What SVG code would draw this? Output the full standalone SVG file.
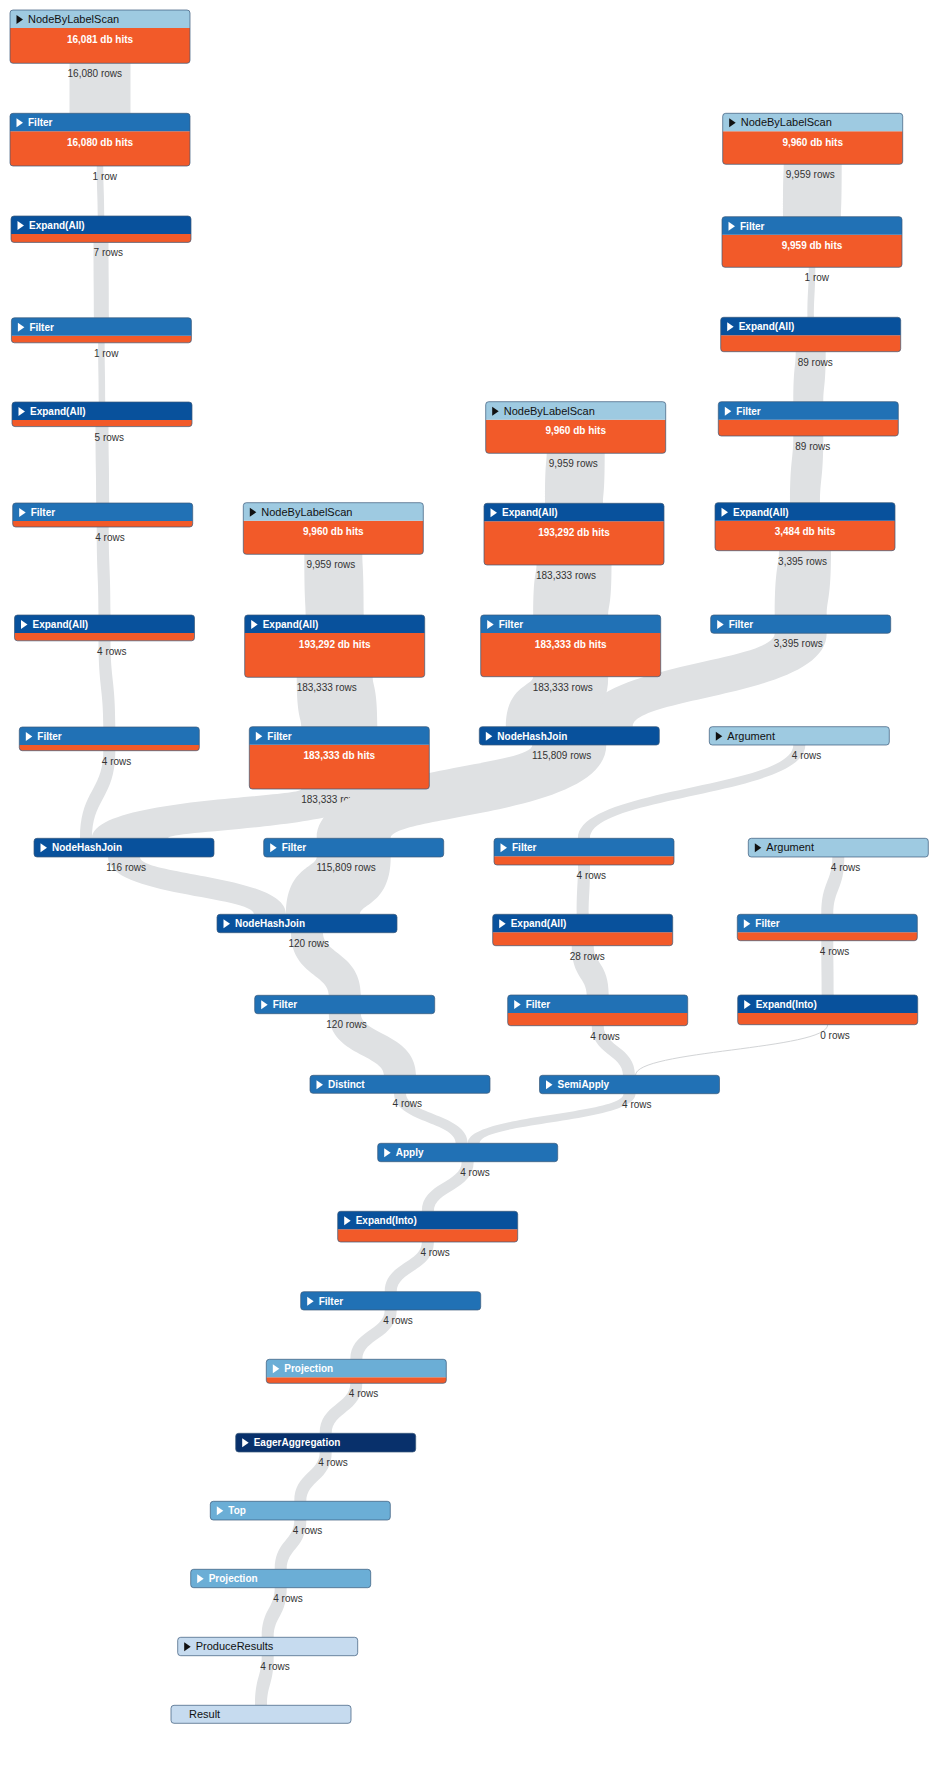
<svg xmlns="http://www.w3.org/2000/svg" xmlns:xlink="http://www.w3.org/1999/xlink" width="938" height="1784" viewBox="0 0 938 1784">
<style>
.lk{fill:#DFE1E3}
.ln{fill:none;stroke:#D2D4D6;stroke-width:1}
.rl{font-family:"Liberation Sans",Arial,sans-serif;font-size:10px;fill:#333;text-anchor:end}
.body{fill:#F25A29}
.ol{fill:none;stroke:#3b5a7a;stroke-opacity:.7;stroke-width:1}
.c1{fill:#C6DBEF}.c2{fill:#9ECAE1}.c3{fill:#6BAED6}.c5{fill:#2171B5}.c6{fill:#08519C}.c7{fill:#08306B}
.tw{fill:#fff}.tb{fill:#111}
.hw{font-family:"Liberation Sans",Arial,sans-serif;font-size:10px;font-weight:bold;fill:#fff}
.hb{font-family:"Liberation Sans",Arial,sans-serif;font-size:11px;fill:#111}
.db{font-family:"Liberation Sans",Arial,sans-serif;font-size:10px;font-weight:bold;fill:#fff;text-anchor:middle}
</style>
<defs>
<path id="hdr" d="M0,18V3Q0,0 3,0H177Q180,0 180,3V18Z"/>
<polygon id="tri" points="6.5,5 6.5,14 13,9.5"/>
</defs>
<rect width="938" height="1784" fill="#fff"/>
<g id="connectors">
<path class="lk" d="M130.5,63.3 C130.5,72.4 130.5,72.4 130.5,113.3 L69.5,113.3 C69.5,104.2 69.5,104.2 69.5,63.3Z"/>
<path class="lk" d="M103.25,166 C103.25,188.9 104.25,188.9 104.25,216 L97.75,216 C97.75,193.1 96.75,193.1 96.75,166Z"/>
<path class="lk" d="M108.5,242.4 C108.5,275.3 108.9,275.3 108.9,317.8 L93.9,317.8 C93.9,284.9 93.5,284.9 93.5,242.4Z"/>
<path class="lk" d="M104.65,342.9 C104.65,370.4 105.25,370.4 105.25,402 L98.75,402 C98.75,374.5 98.15,374.5 98.15,342.9Z"/>
<path class="lk" d="M108.5,426.6 C108.5,460.7 109.2,460.7 109.2,503 L96.2,503 C96.2,468.9 95.5,468.9 95.5,426.6Z"/>
<path class="lk" d="M108.7,527 C108.7,567.2 110.5,567.2 110.5,615 L98.5,615 C98.5,574.8 96.7,574.8 96.7,527Z"/>
<path class="lk" d="M110.5,640.8 C110.5,680.1 115.3,680.1 115.3,727 L103.3,727 C103.3,687.7 98.5,687.7 98.5,640.8Z"/>
<path class="lk" d="M115.3,750.7 C115.3,798.3 92,798.3 92,838.3 L80,838.3 C80,790.7 103.3,790.7 103.3,750.7Z"/>
<path class="lk" d="M841.7,164.3 C841.7,207.2 841,207.2 841,216.7 L783,216.7 C783,173.8 783.7,173.8 783.7,164.3Z"/>
<path class="lk" d="M815.25,267.3 C815.25,294.4 813.95,294.4 813.95,317.3 L807.45,317.3 C807.45,290.2 808.75,290.2 808.75,267.3Z"/>
<path class="lk" d="M825.7,351.7 C825.7,386.25 823.3,386.25 823.3,401.7 L793.3,401.7 C793.3,367.15 795.7,367.15 795.7,351.7Z"/>
<path class="lk" d="M823.3,436 C823.3,478.9 820,478.9 820,502.7 L790,502.7 C790,459.8 793.3,459.8 793.3,436Z"/>
<path class="lk" d="M831,550.7 C831,599.4 826.7,599.4 826.7,615 L774.7,615 C774.7,566.3 779,566.3 779,550.7Z"/>
<path class="lk" d="M826.7,633.3 C826.7,696.55 632.8,696.55 632.8,726.7 L580.8,726.7 C580.8,663.45 774.7,663.45 774.7,633.3Z"/>
<path class="lk" d="M604.7,453.3 C604.7,494.2 603,494.2 603,503.3 L545,503.3 C545,462.4 546.7,462.4 546.7,453.3Z"/>
<path class="lk" d="M611.5,565 C611.5,605.9 608.2,605.9 608.2,615 L533.2,615 C533.2,574.1 536.5,574.1 536.5,565Z"/>
<path class="lk" d="M608.2,676.7 C608.2,717.6 580.8,717.6 580.8,726.7 L505.8,726.7 C505.8,685.8 533.2,685.8 533.2,676.7Z"/>
<path class="lk" d="M362.3,554.3 C362.3,566.2 363.7,566.2 363.7,615 L305.7,615 C305.7,603.1 304.3,603.1 304.3,554.3Z"/>
<path class="lk" d="M372.7,677.3 C372.7,686.3 377.3,686.3 377.3,726.7 L301.3,726.7 C301.3,717.7 296.7,717.7 296.7,677.3Z"/>
<path class="lk" d="M377.3,789 C377.3,829.35 168,829.35 168,838.3 L92,838.3 C92,797.95 301.3,797.95 301.3,789Z"/>
<path class="lk" d="M140,857 C140,875.45 286,875.45 286,914.3 L254,914.3 C254,895.85 108,895.85 108,857Z"/>
<path class="lk" d="M390.7,857 C390.7,903.85 360,903.85 360,914.3 L286,914.3 C286,867.45 316.7,867.45 316.7,857Z"/>
<path class="lk" d="M323,932.7 C323,953.8 360.85,953.8 360.85,995.3 L328.85,995.3 C328.85,974.2 291,974.2 291,932.7Z"/>
<path class="lk" d="M360.85,1013.7 C360.85,1034.3 416,1034.3 416,1075.3 L384,1075.3 C384,1054.7 328.85,1054.7 328.85,1013.7Z"/>
<path class="lk" d="M805.3,745 C805.3,795.5 590,795.5 590,838.3 L578,838.3 C578,787.8 793.3,787.8 793.3,745Z"/>
<path class="lk" d="M590,865 C590,893.5 588.7,893.5 588.7,914.3 L576.7,914.3 C576.7,885.8 578,885.8 578,865Z"/>
<path class="lk" d="M593.7,945.7 C593.7,963.35 608.7,963.35 608.7,995 L586.7,995 C586.7,977.35 571.7,977.35 571.7,945.7Z"/>
<path class="lk" d="M603.7,1025.7 C603.7,1046.7 635,1046.7 635,1075.3 L623,1075.3 C623,1054.3 591.7,1054.3 591.7,1025.7Z"/>
<path class="lk" d="M844.3,857 C844.3,889.5 833.3,889.5 833.3,914.3 L821.3,914.3 C821.3,881.8 832.3,881.8 832.3,857Z"/>
<path class="lk" d="M833.3,940.7 C833.3,964 833.7,964 833.7,995 L821.7,995 C821.7,971.7 821.3,971.7 821.3,940.7Z"/>
<path class="ln" d="M827.7,1024.7 C827.7,1050 635.5,1050 635.5,1075.3"/>
<path class="lk" d="M406,1093.3 C406,1114.5 467.7,1114.5 467.7,1143.3 L455.7,1143.3 C455.7,1122.1 394,1122.1 394,1093.3Z"/>
<path class="lk" d="M635.5,1093.7 C635.5,1122.3 479.7,1122.3 479.7,1143.3 L467.7,1143.3 C467.7,1114.7 623.5,1114.7 623.5,1093.7Z"/>
<path class="lk" d="M473.7,1161.7 C473.7,1190.3 433.85,1190.3 433.85,1211.3 L421.85,1211.3 C421.85,1182.7 461.7,1182.7 461.7,1161.7Z"/>
<path class="lk" d="M433.85,1242 C433.85,1270.7 396.7,1270.7 396.7,1291.7 L384.7,1291.7 C384.7,1263 421.85,1263 421.85,1242Z"/>
<path class="lk" d="M396.7,1310 C396.7,1338.5 362.3,1338.5 362.3,1359.3 L350.3,1359.3 C350.3,1330.8 384.7,1330.8 384.7,1310Z"/>
<path class="lk" d="M362.3,1383.3 C362.3,1412.1 331.7,1412.1 331.7,1433.3 L319.7,1433.3 C319.7,1404.5 350.3,1404.5 350.3,1383.3Z"/>
<path class="lk" d="M331.7,1452 C331.7,1480.5 306.3,1480.5 306.3,1501.3 L294.3,1501.3 C294.3,1472.8 319.7,1472.8 319.7,1452Z"/>
<path class="lk" d="M306.3,1520 C306.3,1548.5 286.7,1548.5 286.7,1569.3 L274.7,1569.3 C274.7,1540.8 294.3,1540.8 294.3,1520Z"/>
<path class="lk" d="M286.7,1587.7 C286.7,1616.3 273.7,1616.3 273.7,1637.3 L261.7,1637.3 C261.7,1608.7 274.7,1608.7 274.7,1587.7Z"/>
<path class="lk" d="M273.7,1655.7 C273.7,1684.3 267,1684.3 267,1705.3 L255,1705.3 C255,1676.7 261.7,1676.7 261.7,1655.7Z"/>
<text class="rl" x="361.3" y="803">183,333 rows</text>
<path class="lk" d="M606.3,745 C606.3,815.2 390.7,815.2 390.7,838.3 L316.7,838.3 C316.7,768.1 532.3,768.1 532.3,745Z"/>
<text class="rl" x="122" y="77.3">16,080 rows</text>
<text class="rl" x="117" y="180">1 row</text>
<text class="rl" x="123" y="256.4">7 rows</text>
<text class="rl" x="118.4" y="356.9">1 row</text>
<text class="rl" x="124" y="440.6">5 rows</text>
<text class="rl" x="124.7" y="541">4 rows</text>
<text class="rl" x="126.5" y="654.8">4 rows</text>
<text class="rl" x="131.3" y="764.7">4 rows</text>
<text class="rl" x="146" y="871">116 rows</text>
<text class="rl" x="834.7" y="178.3">9,959 rows</text>
<text class="rl" x="829" y="281.3">1 row</text>
<text class="rl" x="832.7" y="365.7">89 rows</text>
<text class="rl" x="830.3" y="450">89 rows</text>
<text class="rl" x="827" y="564.7">3,395 rows</text>
<text class="rl" x="822.7" y="647.3">3,395 rows</text>
<text class="rl" x="597.7" y="467.3">9,959 rows</text>
<text class="rl" x="596" y="579">183,333 rows</text>
<text class="rl" x="592.7" y="690.7">183,333 rows</text>
<text class="rl" x="591.3" y="759">115,809 rows</text>
<text class="rl" x="355.3" y="568.3">9,959 rows</text>
<text class="rl" x="356.7" y="691.3">183,333 rows</text>
<text class="rl" x="821.3" y="759">4 rows</text>
<text class="rl" x="375.7" y="871">115,809 rows</text>
<text class="rl" x="606" y="879">4 rows</text>
<text class="rl" x="860.3" y="871">4 rows</text>
<text class="rl" x="329" y="946.7">120 rows</text>
<text class="rl" x="604.7" y="959.7">28 rows</text>
<text class="rl" x="849.3" y="954.7">4 rows</text>
<text class="rl" x="366.85" y="1027.7">120 rows</text>
<text class="rl" x="619.7" y="1039.7">4 rows</text>
<text class="rl" x="849.7" y="1038.7">0 rows</text>
<text class="rl" x="422" y="1107.3">4 rows</text>
<text class="rl" x="651.5" y="1107.7">4 rows</text>
<text class="rl" x="489.7" y="1175.7">4 rows</text>
<text class="rl" x="449.85" y="1256">4 rows</text>
<text class="rl" x="412.7" y="1324">4 rows</text>
<text class="rl" x="378.3" y="1397.3">4 rows</text>
<text class="rl" x="347.7" y="1466">4 rows</text>
<text class="rl" x="322.3" y="1534">4 rows</text>
<text class="rl" x="302.7" y="1601.7">4 rows</text>
<text class="rl" x="289.7" y="1669.7">4 rows</text>
</g>
<g id="n01" transform="translate(10,10)"><path class="body" d="M0,18H180V50.3Q180,53.3 177,53.3H3Q0,53.3 0,50.3Z"/><use href="#hdr" class="c2"/><rect class="ol" width="180" height="53.3" rx="3"/><use href="#tri" class="tb"/><text class="hb" x="18" y="13">NodeByLabelScan</text><text class="db" x="90" y="32.5">16,081 db hits</text></g>
<g id="n02" transform="translate(10,113.3)"><path class="body" d="M0,18H180V49.7Q180,52.7 177,52.7H3Q0,52.7 0,49.7Z"/><use href="#hdr" class="c5"/><rect class="ol" width="180" height="52.7" rx="3"/><use href="#tri" class="tw"/><text class="hw" x="18" y="13">Filter</text><text class="db" x="90" y="32.5">16,080 db hits</text></g>
<g id="n03" transform="translate(11,216)"><path class="body" d="M0,18H180V23.4Q180,26.4 177,26.4H3Q0,26.4 0,23.4Z"/><use href="#hdr" class="c6"/><rect class="ol" width="180" height="26.4" rx="3"/><use href="#tri" class="tw"/><text class="hw" x="18" y="13">Expand(All)</text></g>
<g id="n04" transform="translate(11.4,317.8)"><path class="body" d="M0,18H180V22Q180,25 177,25H3Q0,25 0,22Z"/><use href="#hdr" class="c5"/><rect class="ol" width="180" height="25" rx="3"/><use href="#tri" class="tw"/><text class="hw" x="18" y="13">Filter</text></g>
<g id="n05" transform="translate(12,402)"><path class="body" d="M0,18H180V21.6Q180,24.6 177,24.6H3Q0,24.6 0,21.6Z"/><use href="#hdr" class="c6"/><rect class="ol" width="180" height="24.6" rx="3"/><use href="#tri" class="tw"/><text class="hw" x="18" y="13">Expand(All)</text></g>
<g id="n06" transform="translate(12.7,503)"><path class="body" d="M0,18H180V21Q180,24 177,24H3Q0,24 0,21Z"/><use href="#hdr" class="c5"/><rect class="ol" width="180" height="24" rx="3"/><use href="#tri" class="tw"/><text class="hw" x="18" y="13">Filter</text></g>
<g id="n07" transform="translate(14.5,615)"><path class="body" d="M0,18H180V22.8Q180,25.8 177,25.8H3Q0,25.8 0,22.8Z"/><use href="#hdr" class="c6"/><rect class="ol" width="180" height="25.8" rx="3"/><use href="#tri" class="tw"/><text class="hw" x="18" y="13">Expand(All)</text></g>
<g id="n08" transform="translate(19.3,727)"><path class="body" d="M0,18H180V20.7Q180,23.7 177,23.7H3Q0,23.7 0,20.7Z"/><use href="#hdr" class="c5"/><rect class="ol" width="180" height="23.7" rx="3"/><use href="#tri" class="tw"/><text class="hw" x="18" y="13">Filter</text></g>
<g id="n09" transform="translate(34,838.3)"><rect class="c6" width="180" height="18.7" rx="3"/><rect class="ol" width="180" height="18.7" rx="3"/><use href="#tri" class="tw"/><text class="hw" x="18" y="13">NodeHashJoin</text></g>
<g id="n10" transform="translate(722.7,113.3)"><path class="body" d="M0,18H180V48Q180,51 177,51H3Q0,51 0,48Z"/><use href="#hdr" class="c2"/><rect class="ol" width="180" height="51" rx="3"/><use href="#tri" class="tb"/><text class="hb" x="18" y="13">NodeByLabelScan</text><text class="db" x="90" y="32.5">9,960 db hits</text></g>
<g id="n11" transform="translate(722,216.7)"><path class="body" d="M0,18H180V47.6Q180,50.6 177,50.6H3Q0,50.6 0,47.6Z"/><use href="#hdr" class="c5"/><rect class="ol" width="180" height="50.6" rx="3"/><use href="#tri" class="tw"/><text class="hw" x="18" y="13">Filter</text><text class="db" x="90" y="32.5">9,959 db hits</text></g>
<g id="n12" transform="translate(720.7,317.3)"><path class="body" d="M0,18H180V31.4Q180,34.4 177,34.4H3Q0,34.4 0,31.4Z"/><use href="#hdr" class="c6"/><rect class="ol" width="180" height="34.4" rx="3"/><use href="#tri" class="tw"/><text class="hw" x="18" y="13">Expand(All)</text></g>
<g id="n13" transform="translate(718.3,401.7)"><path class="body" d="M0,18H180V31.3Q180,34.3 177,34.3H3Q0,34.3 0,31.3Z"/><use href="#hdr" class="c5"/><rect class="ol" width="180" height="34.3" rx="3"/><use href="#tri" class="tw"/><text class="hw" x="18" y="13">Filter</text></g>
<g id="n14" transform="translate(715,502.7)"><path class="body" d="M0,18H180V45Q180,48 177,48H3Q0,48 0,45Z"/><use href="#hdr" class="c6"/><rect class="ol" width="180" height="48" rx="3"/><use href="#tri" class="tw"/><text class="hw" x="18" y="13">Expand(All)</text><text class="db" x="90" y="32.5">3,484 db hits</text></g>
<g id="n15" transform="translate(710.7,615)"><rect class="c5" width="180" height="18.3" rx="3"/><rect class="ol" width="180" height="18.3" rx="3"/><use href="#tri" class="tw"/><text class="hw" x="18" y="13">Filter</text></g>
<g id="n16" transform="translate(485.7,401.7)"><path class="body" d="M0,18H180V48.6Q180,51.6 177,51.6H3Q0,51.6 0,48.6Z"/><use href="#hdr" class="c2"/><rect class="ol" width="180" height="51.6" rx="3"/><use href="#tri" class="tb"/><text class="hb" x="18" y="13">NodeByLabelScan</text><text class="db" x="90" y="32.5">9,960 db hits</text></g>
<g id="n17" transform="translate(484,503.3)"><path class="body" d="M0,18H180V58.7Q180,61.7 177,61.7H3Q0,61.7 0,58.7Z"/><use href="#hdr" class="c6"/><rect class="ol" width="180" height="61.7" rx="3"/><use href="#tri" class="tw"/><text class="hw" x="18" y="13">Expand(All)</text><text class="db" x="90" y="32.5">193,292 db hits</text></g>
<g id="n18" transform="translate(480.7,615)"><path class="body" d="M0,18H180V58.7Q180,61.7 177,61.7H3Q0,61.7 0,58.7Z"/><use href="#hdr" class="c5"/><rect class="ol" width="180" height="61.7" rx="3"/><use href="#tri" class="tw"/><text class="hw" x="18" y="13">Filter</text><text class="db" x="90" y="32.5">183,333 db hits</text></g>
<g id="n19" transform="translate(479.3,726.7)"><rect class="c6" width="180" height="18.3" rx="3"/><rect class="ol" width="180" height="18.3" rx="3"/><use href="#tri" class="tw"/><text class="hw" x="18" y="13">NodeHashJoin</text></g>
<g id="n20" transform="translate(243.3,502.7)"><path class="body" d="M0,18H180V48.6Q180,51.6 177,51.6H3Q0,51.6 0,48.6Z"/><use href="#hdr" class="c2"/><rect class="ol" width="180" height="51.6" rx="3"/><use href="#tri" class="tb"/><text class="hb" x="18" y="13">NodeByLabelScan</text><text class="db" x="90" y="32.5">9,960 db hits</text></g>
<g id="n21" transform="translate(244.7,615)"><path class="body" d="M0,18H180V59.3Q180,62.3 177,62.3H3Q0,62.3 0,59.3Z"/><use href="#hdr" class="c6"/><rect class="ol" width="180" height="62.3" rx="3"/><use href="#tri" class="tw"/><text class="hw" x="18" y="13">Expand(All)</text><text class="db" x="90" y="32.5">193,292 db hits</text></g>
<g id="n22" transform="translate(249.3,726.7)"><path class="body" d="M0,18H180V59.3Q180,62.3 177,62.3H3Q0,62.3 0,59.3Z"/><use href="#hdr" class="c5"/><rect class="ol" width="180" height="62.3" rx="3"/><use href="#tri" class="tw"/><text class="hw" x="18" y="13">Filter</text><text class="db" x="90" y="32.5">183,333 db hits</text></g>
<g id="n23" transform="translate(709.3,726.7)"><rect class="c2" width="180" height="18.3" rx="3"/><rect class="ol" width="180" height="18.3" rx="3"/><use href="#tri" class="tb"/><text class="hb" x="18" y="13">Argument</text></g>
<g id="n24" transform="translate(263.7,838.3)"><rect class="c5" width="180" height="18.7" rx="3"/><rect class="ol" width="180" height="18.7" rx="3"/><use href="#tri" class="tw"/><text class="hw" x="18" y="13">Filter</text></g>
<g id="n25" transform="translate(494,838.3)"><path class="body" d="M0,18H180V23.7Q180,26.7 177,26.7H3Q0,26.7 0,23.7Z"/><use href="#hdr" class="c5"/><rect class="ol" width="180" height="26.7" rx="3"/><use href="#tri" class="tw"/><text class="hw" x="18" y="13">Filter</text></g>
<g id="n26" transform="translate(748.3,838.3)"><rect class="c2" width="180" height="18.7" rx="3"/><rect class="ol" width="180" height="18.7" rx="3"/><use href="#tri" class="tb"/><text class="hb" x="18" y="13">Argument</text></g>
<g id="n27" transform="translate(217,914.3)"><rect class="c6" width="180" height="18.4" rx="3"/><rect class="ol" width="180" height="18.4" rx="3"/><use href="#tri" class="tw"/><text class="hw" x="18" y="13">NodeHashJoin</text></g>
<g id="n28" transform="translate(492.7,914.3)"><path class="body" d="M0,18H180V28.4Q180,31.4 177,31.4H3Q0,31.4 0,28.4Z"/><use href="#hdr" class="c6"/><rect class="ol" width="180" height="31.4" rx="3"/><use href="#tri" class="tw"/><text class="hw" x="18" y="13">Expand(All)</text></g>
<g id="n29" transform="translate(737.3,914.3)"><path class="body" d="M0,18H180V23.4Q180,26.4 177,26.4H3Q0,26.4 0,23.4Z"/><use href="#hdr" class="c5"/><rect class="ol" width="180" height="26.4" rx="3"/><use href="#tri" class="tw"/><text class="hw" x="18" y="13">Filter</text></g>
<g id="n30" transform="translate(254.7,995.3)"><rect class="c5" width="180" height="18.4" rx="3"/><rect class="ol" width="180" height="18.4" rx="3"/><use href="#tri" class="tw"/><text class="hw" x="18" y="13">Filter</text></g>
<g id="n31" transform="translate(507.7,995)"><path class="body" d="M0,18H180V27.7Q180,30.7 177,30.7H3Q0,30.7 0,27.7Z"/><use href="#hdr" class="c5"/><rect class="ol" width="180" height="30.7" rx="3"/><use href="#tri" class="tw"/><text class="hw" x="18" y="13">Filter</text></g>
<g id="n32" transform="translate(737.7,995)"><path class="body" d="M0,18H180V26.7Q180,29.7 177,29.7H3Q0,29.7 0,26.7Z"/><use href="#hdr" class="c6"/><rect class="ol" width="180" height="29.7" rx="3"/><use href="#tri" class="tw"/><text class="hw" x="18" y="13">Expand(Into)</text></g>
<g id="n33" transform="translate(310,1075.3)"><rect class="c5" width="180" height="18" rx="3"/><rect class="ol" width="180" height="18" rx="3"/><use href="#tri" class="tw"/><text class="hw" x="18" y="13">Distinct</text></g>
<g id="n34" transform="translate(539.5,1075.3)"><rect class="c5" width="180" height="18.4" rx="3"/><rect class="ol" width="180" height="18.4" rx="3"/><use href="#tri" class="tw"/><text class="hw" x="18" y="13">SemiApply</text></g>
<g id="n35" transform="translate(377.7,1143.3)"><rect class="c5" width="180" height="18.4" rx="3"/><rect class="ol" width="180" height="18.4" rx="3"/><use href="#tri" class="tw"/><text class="hw" x="18" y="13">Apply</text></g>
<g id="n36" transform="translate(337.7,1211.3)"><path class="body" d="M0,18H180V27.7Q180,30.7 177,30.7H3Q0,30.7 0,27.7Z"/><use href="#hdr" class="c6"/><rect class="ol" width="180" height="30.7" rx="3"/><use href="#tri" class="tw"/><text class="hw" x="18" y="13">Expand(Into)</text></g>
<g id="n37" transform="translate(300.7,1291.7)"><rect class="c5" width="180" height="18.3" rx="3"/><rect class="ol" width="180" height="18.3" rx="3"/><use href="#tri" class="tw"/><text class="hw" x="18" y="13">Filter</text></g>
<g id="n38" transform="translate(266.3,1359.3)"><path class="body" d="M0,18H180V21Q180,24 177,24H3Q0,24 0,21Z"/><use href="#hdr" class="c3"/><rect class="ol" width="180" height="24" rx="3"/><use href="#tri" class="tw"/><text class="hw" x="18" y="13">Projection</text></g>
<g id="n39" transform="translate(235.7,1433.3)"><rect class="c7" width="180" height="18.7" rx="3"/><rect class="ol" width="180" height="18.7" rx="3"/><use href="#tri" class="tw"/><text class="hw" x="18" y="13">EagerAggregation</text></g>
<g id="n40" transform="translate(210.3,1501.3)"><rect class="c3" width="180" height="18.7" rx="3"/><rect class="ol" width="180" height="18.7" rx="3"/><use href="#tri" class="tw"/><text class="hw" x="18" y="13">Top</text></g>
<g id="n41" transform="translate(190.7,1569.3)"><rect class="c3" width="180" height="18.4" rx="3"/><rect class="ol" width="180" height="18.4" rx="3"/><use href="#tri" class="tw"/><text class="hw" x="18" y="13">Projection</text></g>
<g id="n42" transform="translate(177.7,1637.3)"><rect class="c1" width="180" height="18.4" rx="3"/><rect class="ol" width="180" height="18.4" rx="3"/><use href="#tri" class="tb"/><text class="hb" x="18" y="13">ProduceResults</text></g>
<g id="n43" transform="translate(171,1705.3)"><rect class="c1" width="180" height="18" rx="3"/><rect class="ol" width="180" height="18" rx="3"/><text class="hb" x="18" y="13">Result</text></g>
</svg>
